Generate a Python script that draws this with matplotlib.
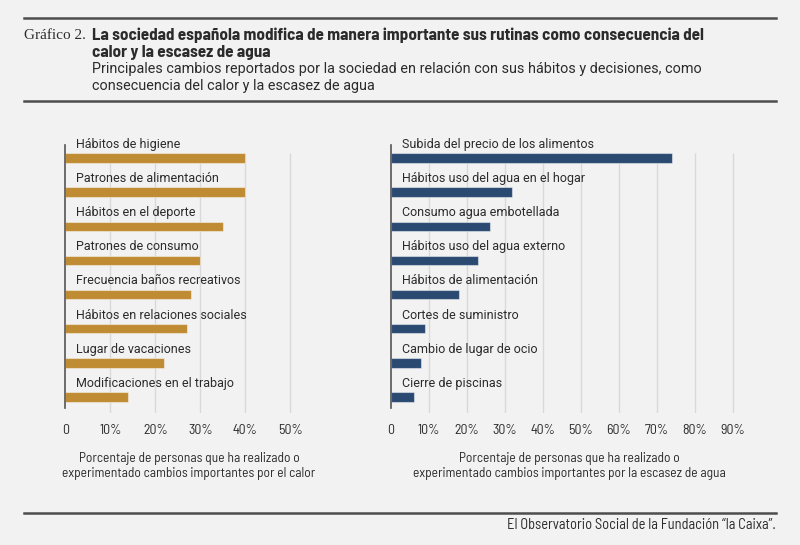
import matplotlib.pyplot as plt
import numpy as np

# data
calor_labels = ["Hábitos de higiene", "Patrones de alimentación", "Hábitos en el deporte",
                "Patrones de consumo", "Frecuencia baños recreativos",
                "Hábitos en relaciones sociales", "Lugar de vacaciones",
                "Modificaciones en el trabajo"]
calor_values = [40, 40, 35, 30, 28, 27, 22, 14]

agua_labels = ["Subida del precio de los alimentos", "Hábitos uso del agua en el hogar",
               "Consumo agua embotellada", "Hábitos uso del agua externo",
               "Hábitos de alimentación", "Cortes de suministro",
               "Cambio de lugar de ocio", "Cierre de piscinas"]
agua_values = [74, 32, 26, 23, 18, 9, 8, 6]

calor_ticks = [0, 10, 20, 30, 40, 50]
agua_ticks = [0, 10, 20, 30, 40, 50, 60, 70, 80, 90]

BG = "#f2f2f2"
GOLD = "#c08c33"
NAVY = "#2b4a72"
TEXT = "#2b2b2b"
GRID = "#d9d9d9"

W, H = 800, 545
LABEL_FONT = ["Roboto", "DejaVu Sans"]
NARROW_FONT = ["Barlow Semi Condensed", "Roboto", "DejaVu Sans"]

fig = plt.figure(figsize=(W / 100, H / 100), dpi=100, facecolor=BG)


def px_axes(left, top, right, bottom):
    return fig.add_axes([left / W, 1 - bottom / H, (right - left) / W, (bottom - top) / H])


def draw_panel(ax, labels, values, ticks, xmax, color, xlabel):
    ax.set_facecolor(BG)
    y = np.arange(len(labels))
    ax.set_xlim(0, xmax)
    ax.set_ylim(7.47, -0.38)
    # vertical gridlines start at the top of the first bar
    for t in ticks[1:]:
        ax.vlines(t, -0.14, 7.47, color=GRID, linewidth=1.0, zorder=0)
    ax.barh(y, values, height=0.275, color=color, edgecolor=(1, 1, 1, 0.45),
            linewidth=0.8, zorder=2)
    for i, lab in enumerate(labels):
        ax.annotate(lab, xy=(0, i - 0.40), xytext=(8, 0), textcoords="offset points",
                    va="center", ha="left", fontsize=9, color=TEXT, family=LABEL_FONT,
                    annotation_clip=False)
    for s in ["top", "right", "bottom"]:
        ax.spines[s].set_visible(False)
    ax.spines["left"].set_color("#555555")
    ax.spines["left"].set_linewidth(1.2)
    ax.spines["left"].set_bounds(-0.38, 7.32)
    ax.set_yticks([])
    ax.set_xticks(ticks)
    ax.set_xticklabels(["0"] + [f"{t}%" for t in ticks[1:]], family=NARROW_FONT,
                       fontsize=10, color=TEXT)
    ax.tick_params(axis="x", length=0, pad=8)
    ax.set_xlabel(xlabel, family=NARROW_FONT, fontsize=9.7, color=TEXT,
                  labelpad=11, linespacing=1.2)


ax1 = px_axes(65.3, 145, 65.3 + 55 * 4.5, 413)
draw_panel(ax1, calor_labels, calor_values, calor_ticks, 55, GOLD,
           "Porcentaje de personas que ha realizado o\n"
           "experimentado cambios importantes por el calor")

ax2 = px_axes(390.7, 145, 390.7 + 94 * 3.8, 413)
draw_panel(ax2, agua_labels, agua_values, agua_ticks, 94, NAVY,
           "Porcentaje de personas que ha realizado o\n"
           "experimentado cambios importantes por la escasez de agua")

# header rules and titles
for ypx in [18, 101, 513]:
    fig.add_artist(plt.Line2D([24 / W, 776 / W], [1 - ypx / H, 1 - ypx / H],
                              color="#4d4d4d", linewidth=1.8))

fig.text(24 / W, 1 - 35 / H, "Gráfico 2.", family=["Liberation Serif", "DejaVu Serif"],
         fontsize=11, color=TEXT, va="center", ha="left")
fig.text(92 / W, 1 - 35 / H, "La sociedad española modifica de manera importante sus rutinas como consecuencia del",
         family=NARROW_FONT, fontweight="bold", fontsize=12.3, color=TEXT, va="center")
fig.text(92 / W, 1 - 52 / H, "calor y la escasez de agua",
         family=NARROW_FONT, fontweight="bold", fontsize=12.3, color=TEXT, va="center")
fig.text(92 / W, 1 - 69 / H, "Principales cambios reportados por la sociedad en relación con sus hábitos y decisiones, como",
         family=LABEL_FONT, fontsize=10.4, color=TEXT, va="center")
fig.text(92 / W, 1 - 86 / H, "consecuencia del calor y la escasez de agua",
         family=LABEL_FONT, fontsize=10.4, color=TEXT, va="center")

fig.text(776 / W, 1 - 525 / H, "El Observatorio Social de la Fundación “la Caixa”.",
         family=NARROW_FONT, fontsize=10.4, color=TEXT, va="center", ha="right")

fig.savefig("out.png", dpi=100, facecolor=BG)
